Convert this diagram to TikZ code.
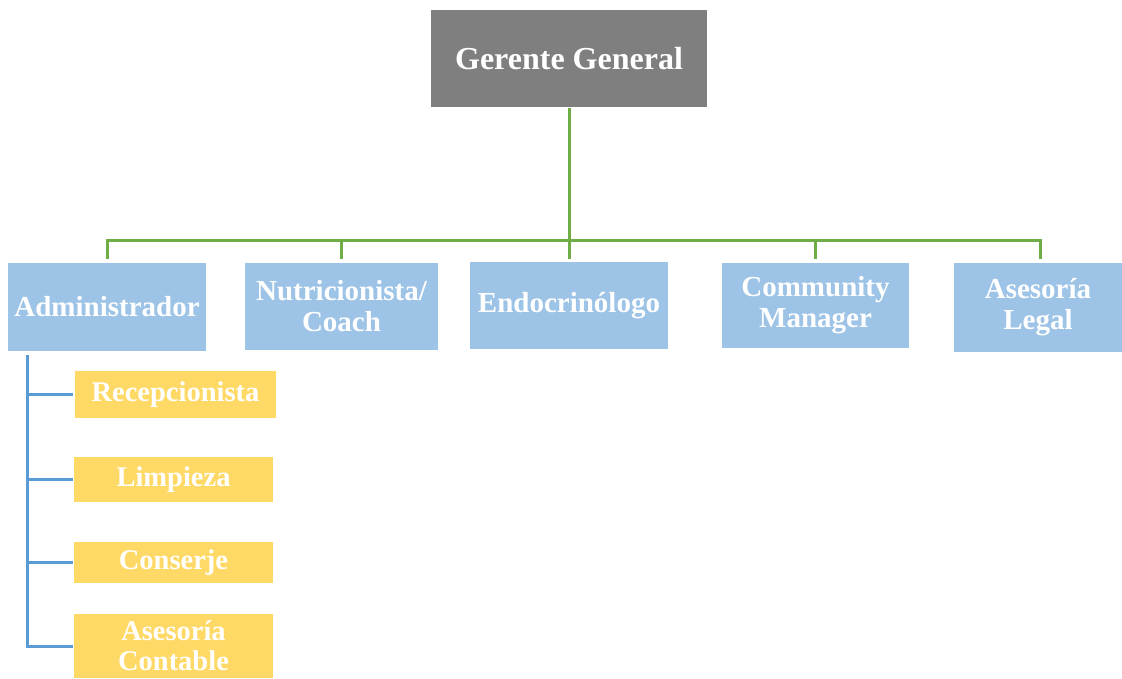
\documentclass[tikz,border=0pt]{standalone}
\usepackage{fontspec}
\setmainfont{Liberation Serif}
\definecolor{gerente}{HTML}{7F7F7F}
\definecolor{azul}{HTML}{9DC3E6}
\definecolor{amarillo}{HTML}{FFD966}
\definecolor{verde}{HTML}{70AD47}
\definecolor{lineaazul}{HTML}{5B9BD5}
\begin{document}
\begin{tikzpicture}[x=1pt,y=-1pt,
  boxbase/.style={inner sep=0pt, align=center, text=white, font=\bfseries\fontsize{29}{31}\selectfont},
  topbox/.style={boxbase, fill=gerente, font=\bfseries\fontsize{32}{34}\selectfont},
  bluebox/.style={boxbase, fill=azul},
  yellowbox/.style={boxbase, fill=amarillo, font=\bfseries\fontsize{28.5}{30}\selectfont},
  greenline/.style={draw=verde, line width=3pt},
  blueline/.style={draw=lineaazul, line width=3pt}]
\useasboundingbox (0,0) rectangle (1122,678);
\fill[white] (0,0) rectangle (1122,678);
\node[topbox, minimum width=276pt, minimum height=97pt] (g) at (569,58.5) {Gerente General};
\node[bluebox, minimum width=198pt, minimum height=88pt] (adm) at (107,307) {Administrador};
\node[bluebox, minimum width=193pt, minimum height=87pt] (nut) at (341.5,306.5) {Nutricionista/\\Coach};
\node[bluebox, minimum width=198pt, minimum height=87pt] (end) at (569,305.5) {Endocrinólogo};
\node[bluebox, minimum width=187pt, minimum height=85pt] (com) at (815.5,305.5) {Community\\Manager};
\node[bluebox, minimum width=168pt, minimum height=89pt] (leg) at (1038,307.5) {Asesoría\\Legal};
\node[yellowbox, minimum width=201pt, minimum height=47pt] (rec) at (175.5,394.5) {Recepcionista};
\node[yellowbox, minimum width=199pt, minimum height=45pt] (lim) at (173.5,479.5) {Limpieza};
\node[yellowbox, minimum width=199pt, minimum height=41pt] (con) at (173.5,562.5) {Conserje};
\node[yellowbox, minimum width=199pt, minimum height=64pt] (cnt) at (173.5,646) {Asesoría\\Contable};
% green connectors
\coordinate (busL) at (107,240);
\coordinate (busR) at (1040,240);
\draw[greenline] ([yshift=-1pt]g.south) -- (g.south |- busL);
\draw[greenline] ([xshift=-1.5pt]busL) -- ([xshift=1.5pt]busR);
\draw[greenline] (busL) -- ([yshift=4pt]adm.north);
\draw[greenline] (nut.north |- busL) -- ([yshift=4pt]nut.north);
\draw[greenline] (end.north |- busL) -- ([yshift=3pt]end.north);
\draw[greenline] (com.north |- busL) -- ([yshift=4pt]com.north);
\draw[greenline] (busR) -- ([xshift=2pt,yshift=4pt]leg.north);
% blue connectors
\coordinate (sp) at (27,355);
\draw[blueline] (sp) -- (sp |- cnt.west) -- ([xshift=-1pt]cnt.west);
\draw[blueline] (sp |- rec.west) -- ([xshift=-2pt]rec.west);
\draw[blueline] (sp |- lim.west) -- ([xshift=-1pt]lim.west);
\draw[blueline] (sp |- con.west) -- ([xshift=-1pt]con.west);
\end{tikzpicture}
\end{document}
